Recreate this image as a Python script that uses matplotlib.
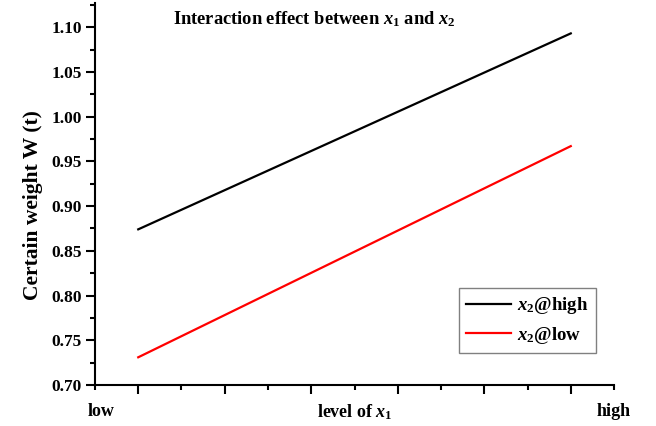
# interaction plot x1 * x2
import matplotlib
matplotlib.use('Agg')
import matplotlib.pyplot as plt
from matplotlib.ticker import NullFormatter

plt.rcParams['font.family'] = 'Liberation Serif'
plt.rcParams['font.weight'] = 'bold'
plt.rcParams['mathtext.fontset'] = 'custom'
plt.rcParams['mathtext.rm'] = 'Liberation Serif:bold'
plt.rcParams['mathtext.it'] = 'Liberation Serif:italic:bold'
plt.rcParams['mathtext.bf'] = 'Liberation Serif:bold'

# --- datos ---
x_level = [-1.0, 1.0]            # low, high (codificado)
w_high = [0.874, 1.093]          # x2 @ high
w_low = [0.731, 0.967]           # x2 @ low
y_ticks = [0.70, 0.75, 0.80, 0.85, 0.90, 0.95, 1.00, 1.05, 1.10]
y_minor = [0.725, 0.775, 0.825, 0.875, 0.925, 0.975, 1.025, 1.075, 1.125]

fig = plt.figure(figsize=(6.56, 4.26), dpi=100)
ax = fig.add_axes([0.1448, 0.0962, 0.7912, 0.8968])

ax.plot(x_level, w_high, color='black', linewidth=1.6, label=r'$x_2$@high')
ax.plot(x_level, w_low, color='red', linewidth=1.6, label=r'$x_2$@low')

ax.set_xlim(-1.2, 1.2)
ax.set_ylim(0.70, 1.127)

# ejes estilo Origin
ax.spines['top'].set_visible(False)
ax.spines['right'].set_visible(False)
for s in ['left', 'bottom']:
    ax.spines[s].set_linewidth(1.5)

ax.set_yticks(y_ticks)
ax.set_yticklabels([f'{v:.2f}' for v in y_ticks])
ax.set_yticks(y_minor, minor=True)

ax.set_xticks([-1.0, -0.6, -0.2, 0.2, 0.6, 1.0])
ax.set_xticks([-1.2, -0.8, -0.4, 0.0, 0.4, 0.8, 1.2], minor=True)
ax.xaxis.set_major_formatter(NullFormatter())

ax.tick_params(which='major', direction='out', length=6.5, width=1.5, labelsize=12.5, pad=3)
ax.tick_params(which='minor', direction='out', length=3.6, width=1.5)

ax.set_ylabel('Certain weight W (t)', fontsize=15.5, fontweight='bold')
ax.yaxis.set_label_coords(-0.10, 0.471)

# etiquetas del eje x
xt = ax.get_xaxis_transform()
ax.text(-1.17, -0.07, 'low', transform=xt, ha='center', va='center', fontsize=13)
ax.text(1.2, -0.07, 'high', transform=xt, ha='center', va='center', fontsize=13)
ax.text(0.0, -0.07, r'level of $x_1$', transform=xt, ha='center', va='center', fontsize=13)

ax.text(0.422, 0.958, r'Interaction effect between $x_1$ and $x_2$',
        transform=ax.transAxes, ha='center', va='center', fontsize=13.3)

leg = ax.legend(loc='lower right', bbox_to_anchor=(0.965, 0.083), fontsize=13.5,
                fancybox=False, framealpha=1, edgecolor='gray',
                handlelength=2.4, handletextpad=0.3, borderpad=0.4,
                labelspacing=0.45, borderaxespad=0)
leg.get_frame().set_linewidth(1.0)

fig.savefig('out.png', dpi=100)
